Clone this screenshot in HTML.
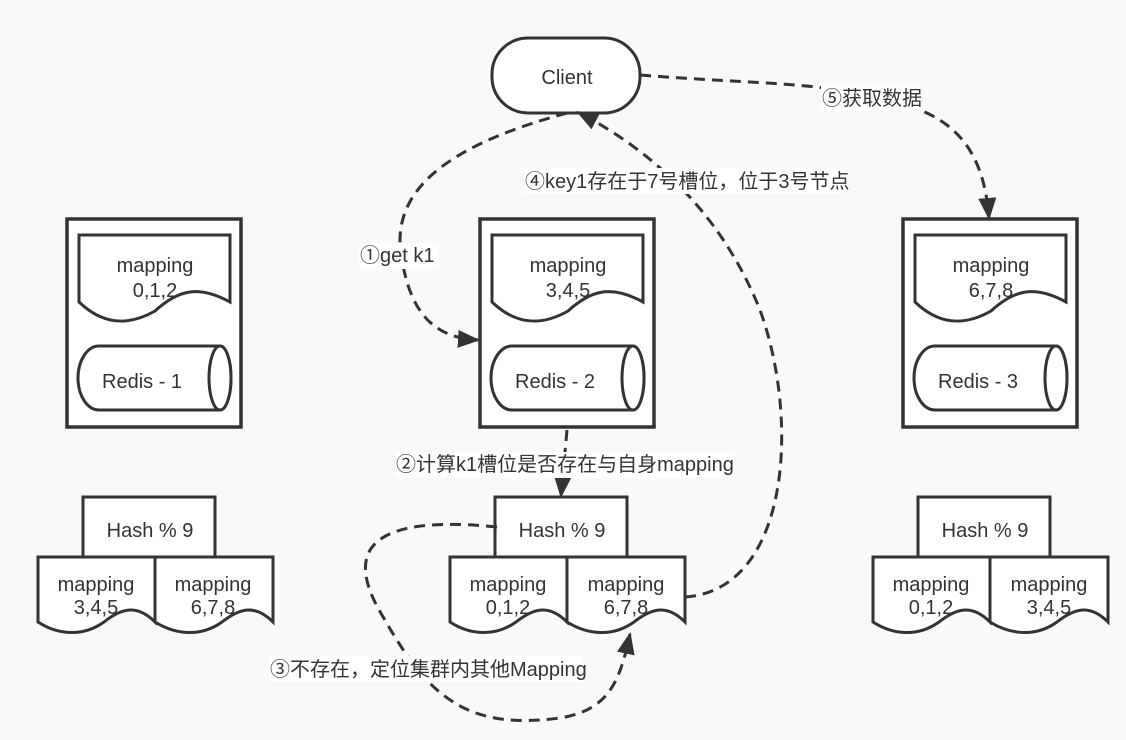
<!DOCTYPE html>
<html><head><meta charset="utf-8"><style>
html,body{margin:0;padding:0;background:#f9f9f9}
svg{display:block}
text{font-family:"Liberation Sans","Noto Sans CJK SC",sans-serif;font-size:20px;fill:#333}
</style></head><body>
<svg width="1126" height="740" viewBox="0 0 1126 740" xmlns="http://www.w3.org/2000/svg">
<defs>
<marker id="ahb" markerWidth="22" markerHeight="18" refX="20" refY="9" orient="auto" markerUnits="userSpaceOnUse" viewBox="0 0 22 18">
<path d="M0,0 L22,9 L0,18 z" fill="#333"/></marker>
<g id="srv">
<rect x="0" y="0" width="174" height="208" fill="#fff" stroke="#333" stroke-width="3.5"/>
<path d="M12,16 H163 V83 C130,65 110,72 88,92 C60,108 35,105 12,83 Z" fill="#fff" stroke="#333" stroke-width="3"/>
<path d="M32,127 H153 A11,32 0 0 1 153,191 H32 A21,32 0 0 1 32,127 Z" fill="#fff" stroke="#333" stroke-width="3"/>
<ellipse cx="153" cy="159" rx="11" ry="32" fill="#fff" stroke="#333" stroke-width="3"/>
</g>
<g id="hash">
<rect x="45" y="0" width="132" height="60" fill="#fff" stroke="#333" stroke-width="3"/>
<path d="M0,60 H117 V125 C100,108 85,110 66,125 C45,140 20,138 0,125 Z" fill="#fff" stroke="#333" stroke-width="3"/>
<path d="M117,60 H235 V125 C218,108 203,110 184,125 C163,140 138,138 117,125 Z" fill="#fff" stroke="#333" stroke-width="3"/>
</g>
</defs>

<rect x="492" y="38" width="148" height="75" rx="36" fill="#fff" stroke="#333" stroke-width="3"/>
<text x="567" y="84" text-anchor="middle">Client</text>

<use href="#srv" x="67" y="219"/>
<use href="#srv" x="480" y="219"/>
<use href="#srv" x="903" y="219"/>
<g text-anchor="middle">
<text x="155" y="272">mapping</text><text x="155" y="297">0,1,2</text>
<text x="568" y="272">mapping</text><text x="568" y="297">3,4,5</text>
<text x="991" y="272">mapping</text><text x="991" y="297">6,7,8</text>
</g>
<text x="102" y="388">Redis - 1</text>
<text x="515" y="388">Redis - 2</text>
<text x="938" y="388">Redis - 3</text>

<use href="#hash" x="38" y="497"/>
<use href="#hash" x="450" y="497"/>
<use href="#hash" x="873" y="497"/>
<g text-anchor="middle">
<text x="150" y="537">Hash % 9</text><text x="96" y="591">mapping</text><text x="96" y="614">3,4,5</text><text x="213" y="591">mapping</text><text x="213" y="614">6,7,8</text>
<text x="562" y="537">Hash % 9</text><text x="508" y="591">mapping</text><text x="508" y="614">0,1,2</text><text x="626" y="591">mapping</text><text x="626" y="614">6,7,8</text>
<text x="985" y="537">Hash % 9</text><text x="931" y="591">mapping</text><text x="931" y="614">0,1,2</text><text x="1049" y="591">mapping</text><text x="1049" y="614">3,4,5</text>
</g>

<g fill="none" stroke="#333" stroke-width="3" stroke-dasharray="11,7">
<path d="M567,113 C430,150 390,200 402,260 C412,320 440,338 478,340" marker-end="url(#ahb)"/>
<path d="M567,430 L561,496" marker-end="url(#ahb)"/>
<path d="M497,527 C330,510 360,580 385,620 C430,700 470,730 560,718 C610,710 620,680 630,634" marker-end="url(#ahb)"/>
<path d="M685,597 C790,590 800,420 760,310 C720,210 650,150 578,112" marker-end="url(#ahb)"/>
<path d="M640,75 C760,85 840,80 920,110 C970,130 985,170 989,218" marker-end="url(#ahb)"/>
</g>

<rect x="359" y="243" width="80" height="26" fill="#fff"/>
<text x="360" y="262">①get k1</text>
<rect x="395" y="452" width="340" height="26" fill="#fff"/>
<text x="396" y="471">②计算k1槽位是否存在与自身mapping</text>
<rect x="269" y="656" width="314" height="26" fill="#fff"/>
<text x="270" y="676">③不存在，定位集群内其他Mapping</text>
<rect x="524" y="168" width="316" height="26" fill="#fff"/>
<text x="525" y="188">④key1存在于7号槽位，位于3号节点</text>
<rect x="821" y="85" width="100" height="26" fill="#fff"/>
<text x="822" y="105">⑤获取数据</text>
</svg>
</body></html>
